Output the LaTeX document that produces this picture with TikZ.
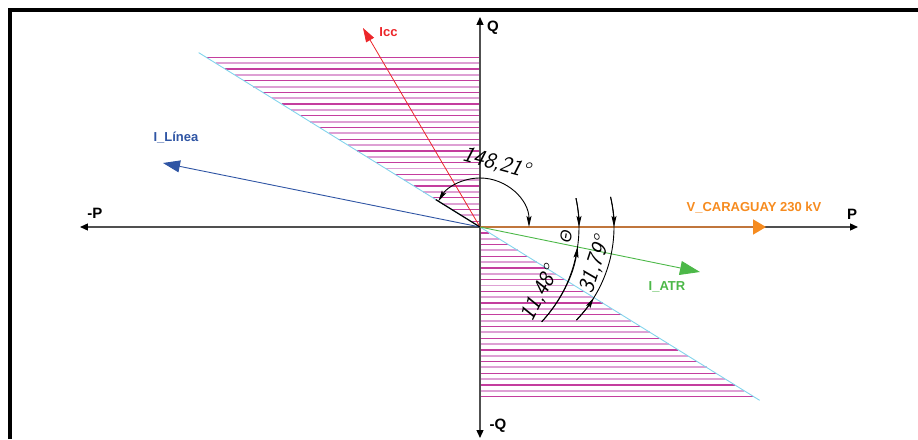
\documentclass[tikz,border=0pt]{standalone}
\usepackage{fontspec}
\setmainfont{Liberation Sans}
\usetikzlibrary{arrows.meta}
\definecolor{hatchdark}{RGB}{196,62,158}
\definecolor{hatchlight}{RGB}{222,160,212}
\definecolor{limitcyan}{RGB}{130,212,236}
\definecolor{axisgray}{RGB}{80,80,80}
\definecolor{iccred}{RGB}{236,38,42}
\definecolor{lineablue}{RGB}{47,85,164}
\definecolor{atrgreen}{RGB}{76,184,72}
\definecolor{vorange}{RGB}{246,139,31}
\definecolor{vbrown}{RGB}{192,118,60}

\begin{document}
\begin{tikzpicture}[x=1pt,y=1pt,
    every node/.style={font=\bfseries\fontsize{13}{13}\selectfont},
    axis/.style={line width=1.3pt,axisgray,-{Triangle[length=8pt,width=7pt,color=black]}},
    axislabel/.style={font=\bfseries\fontsize{15}{15}\selectfont},
    dimline/.style={line width=0.9pt,black},
    dimtip/.style={dimline,-{Stealth[length=11pt,width=5pt,inset=2pt]}},
    dimtext/.style={font=\sffamily\itshape\fontsize{23}{23}\selectfont,inner sep=0pt}]
  \useasboundingbox (-480,-212) rectangle (438,227);
  \draw[line width=4pt] (-470,-212) |- (438,217);

  % hatched region
  \foreach \k in {1,3,...,29}{
    \draw[hatchdark,line width=1.3pt] ({-1.6135*5.85*\k},{5.85*\k}) -- (0,{5.85*\k});
    \draw[hatchdark,line width=1.3pt] ({1.6135*5.85*\k},{-5.85*\k}) -- (0,{-5.85*\k});
  }
  \foreach \k in {2,4,...,28}{
    \draw[hatchlight,line width=1.9pt] ({-1.6135*5.85*\k},{5.85*\k}) -- (0,{5.85*\k});
    \draw[hatchlight,line width=1.9pt] ({1.6135*5.85*\k},{-5.85*\k}) -- (0,{-5.85*\k});
  }
  \coordinate (O) at (0,0);
  \coordinate (limA) at (148.21:331);
  \coordinate (limB) at (-31.79:329);
  \draw[limitcyan,line width=0.9pt] (limA) -- (limB);

  % axes
  \coordinate (Pend) at (378,0);
  \coordinate (nPend) at (-400,0);
  \coordinate (Qend) at (0,210);
  \coordinate (nQend) at (0,-211);
  \draw[axis] (O) -- (Pend);
  \draw[axis] (O) -- (nPend);
  \draw[axis] (O) -- (Qend);
  \draw[axis] (O) -- (nQend);
  \node[axislabel] (P) at (372,13) {P};
  \node[axislabel] (nP) at (-385,14) {-P};
  \node[axislabel] (Q) at (13,199) {Q};
  \node[axislabel] (nQ) at (18,-199) {-Q};

  % vectors
  \coordinate (Vtip) at (286,0);
  \coordinate (ATRtip) at (220,-45);
  \coordinate (Linea) at (-317,64);
  \coordinate (Icctip) at (-117,199);
  \draw[vbrown,line width=1.8pt,-{Triangle[length=13pt,width=15pt,color=vorange]}] (O) -- (Vtip);
  \draw[atrgreen,line width=0.9pt,-{Triangle[length=20pt,width=14pt]}] (O) -- (ATRtip);
  \draw[lineablue,line width=0.9pt,-{Triangle[length=17pt,width=12pt]}] (O) -- (Linea);
  \draw[iccred,line width=0.8pt,-{Triangle[length=14pt,width=9pt]}] (O) -- (Icctip);
  \node[vorange] (Vlabel) at (274,19.5) {V\_CARAGUAY 230 kV};
  \node[atrgreen] (ATRlabel) at (187,-60) {I\_ATR};
  \node[lineablue] (Linealabel) at (-304,89) {I\_Línea};
  \node[iccred] (Icclabel) at (-91.5,195) {Icc};

  % angle 148,21
  \draw[dimline,line width=1.2pt] (O) -- (148.21:52);
  \draw[dimline,{Stealth[length=11pt,width=5pt,inset=2pt]}-{Stealth[length=11pt,width=5pt,inset=2pt]}]
    (0:49) arc[start angle=0,end angle=148.21,radius=49];
  \node[dimtext,rotate=-15] (ang1) at (16,64) {148,21°};

  % angle theta
  \coordinate (C) at (-40,0);
  \draw[dimline] ([shift={(12:139)}]C) arc[start angle=12,end angle=-43,radius=139];
  \draw[dimtip] ([shift={(12:139)}]C) arc[start angle=12,end angle=0,radius=139];
  \draw[dimtip] ([shift={(-43:139)}]C) arc[start angle=-43,end angle=-8.2,radius=139];
  \node[rotate=80,inner sep=0pt,font=\itshape\fontsize{16}{16}\selectfont] (th) at (86,-9) {Θ};
  \node[dimtext,rotate=63] (ang2) at (60,-67) {11,48°};

  % angle 31,79
  \draw[dimline] (13:134) arc[start angle=13,end angle=-44,radius=134];
  \draw[dimtip] (13:134) arc[start angle=13,end angle=0,radius=134];
  \draw[dimtip] (-44:134) arc[start angle=-44,end angle=-31.79,radius=134];
  \node[dimtext,rotate=72] (ang3) at (115,-38) {31,79°};
\end{tikzpicture}
\end{document}
